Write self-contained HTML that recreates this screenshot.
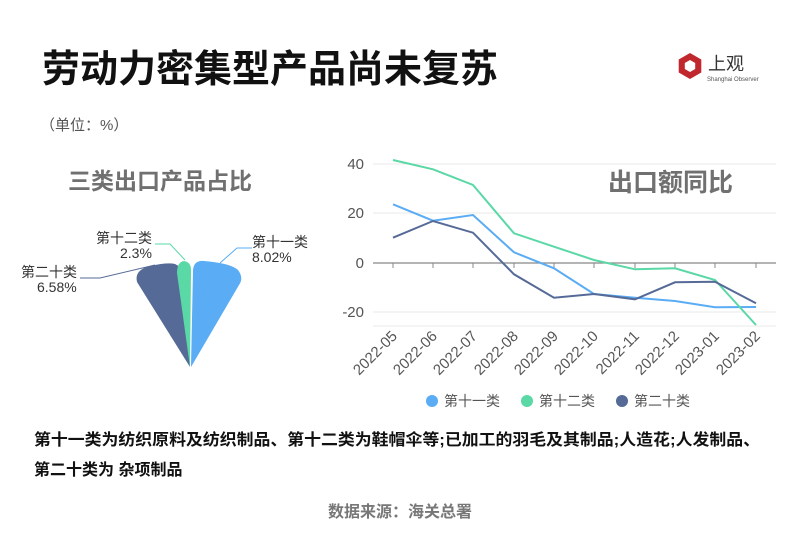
<!DOCTYPE html>
<html><head><meta charset="utf-8"><style>
body{margin:0;background:#fff;width:799px;height:530px;overflow:hidden;font-family:"Liberation Sans","Noto Sans CJK SC",sans-serif}
</style></head><body>
<svg width="799" height="530" xmlns="http://www.w3.org/2000/svg" font-family="Liberation Sans, Noto Sans CJK SC, sans-serif">
<text x="42" y="82" font-size="38" font-weight="bold" fill="#111">劳动力密集型产品尚未复苏</text>
<text x="40" y="130" font-size="15" fill="#555">（单位：%）</text>
<g transform="translate(690,66)">
<polygon points="0,-13 11.3,-6.5 11.3,6.5 0,13 -11.3,6.5 -11.3,-6.5" fill="#c0282d"/>
<polygon points="0,-6 5.2,-3 5.2,3 0,6 -5.2,3 -5.2,-3" fill="#fff"/>
</g>
<text x="708" y="70" font-size="18" fill="#333">上观</text>
<text x="707" y="81" font-size="6" fill="#555">Shanghai Observer</text>
<text x="68" y="189" font-size="23" font-weight="bold" fill="#707070">三类出口产品占比</text>
<path d="M190,367 L137,282 Q134,270 150,266 Q168,262 175,264 Q180,266 181,272 Z" fill="#566a97"/>
<path d="M190,367 L177,273 Q177,262 184,261 Q191,262 191,270 Z" fill="#5ad8a6"/>
<path d="M191,367 L193,270 Q194,260 204,261 Q230,263 238,270 Q244,278 239,285 Z" fill="#5aacf4"/>
<polyline points="155,265 100,278 80,278" fill="none" stroke="#566a97" stroke-width="1"/>
<polyline points="185,260 170,244 155,244" fill="none" stroke="#5ad8a6" stroke-width="1"/>
<polyline points="220,263 237,248 252,248" fill="none" stroke="#5aacf4" stroke-width="1"/>
<text x="21" y="277" font-size="14" fill="#333">第二十类</text>
<text x="37" y="292" font-size="14" fill="#333">6.58%</text>
<text x="96" y="243" font-size="14" fill="#333">第十二类</text>
<text x="120" y="258" font-size="14" fill="#333">2.3%</text>
<text x="252" y="247" font-size="14" fill="#333">第十一类</text>
<text x="252" y="262" font-size="14" fill="#333">8.02%</text>
<g stroke="#e8e8e8" stroke-width="1">
<line x1="373" y1="164" x2="776" y2="164"/>
<line x1="373" y1="213" x2="776" y2="213"/>
<line x1="373" y1="312" x2="776" y2="312"/>
<line x1="373" y1="326" x2="776" y2="326"/>
</g>
<line x1="373" y1="263" x2="776" y2="263" stroke="#888" stroke-width="1.2"/>
<g stroke="#888" stroke-width="1">
<line x1="393" y1="263" x2="393" y2="268"/><line x1="433" y1="263" x2="433" y2="268"/><line x1="473" y1="263" x2="473" y2="268"/><line x1="514" y1="263" x2="514" y2="268"/><line x1="554" y1="263" x2="554" y2="268"/><line x1="594" y1="263" x2="594" y2="268"/><line x1="635" y1="263" x2="635" y2="268"/><line x1="675" y1="263" x2="675" y2="268"/><line x1="715" y1="263" x2="715" y2="268"/><line x1="756" y1="263" x2="756" y2="268"/>
</g>
<g font-size="15" fill="#555" text-anchor="end">
<text x="364" y="169">40</text><text x="364" y="218">20</text><text x="364" y="268">0</text><text x="364" y="317">-20</text>
</g>
<text x="608" y="191" font-size="25" font-weight="bold" fill="#707070">出口额同比</text>
<g font-size="15" fill="#555" text-anchor="end">
<text transform="translate(398,337) rotate(-45)">2022-05</text>
<text transform="translate(438,337) rotate(-45)">2022-06</text>
<text transform="translate(478,337) rotate(-45)">2022-07</text>
<text transform="translate(519,337) rotate(-45)">2022-08</text>
<text transform="translate(559,337) rotate(-45)">2022-09</text>
<text transform="translate(599,337) rotate(-45)">2022-10</text>
<text transform="translate(640,337) rotate(-45)">2022-11</text>
<text transform="translate(680,337) rotate(-45)">2022-12</text>
<text transform="translate(720,337) rotate(-45)">2023-01</text>
<text transform="translate(761,337) rotate(-45)">2023-02</text>
</g>
<g fill="none" stroke-width="2">
<polyline stroke="#5aacf4" points="393,204.3 433,220.7 473,215 514,252.3 554,268.3 594,294 635,297.7 675,301 715,307.3 756,307"/>
<polyline stroke="#5ad8a6" points="393,160 433,169.3 473,185 514,233.3 554,246.7 594,260 635,269.3 675,268.3 715,280 756,325"/>
<polyline stroke="#566a97" points="393,237.7 433,221 473,232.7 514,274.3 554,297.7 594,294 635,299.3 675,282.3 715,281.7 756,303.3"/>
</g>
<circle cx="432" cy="401" r="6" fill="#5aacf4"/><text x="444" y="406" font-size="14" fill="#555">第十一类</text>
<circle cx="527" cy="401" r="6" fill="#5ad8a6"/><text x="539" y="406" font-size="14" fill="#555">第十二类</text>
<circle cx="622" cy="401" r="6" fill="#566a97"/><text x="634" y="406" font-size="14" fill="#555">第二十类</text>
<text x="34" y="445" font-size="16" font-weight="bold" fill="#111" textLength="726" lengthAdjust="spacingAndGlyphs">第十一类为纺织原料及纺织制品、第十二类为鞋帽伞等;已加工的羽毛及其制品;人造花;人发制品、</text>
<text x="34" y="475" font-size="16" font-weight="bold" fill="#111">第二十类为 杂项制品</text>
<text x="328" y="517" font-size="16" font-weight="bold" fill="#777">数据来源：海关总署</text>
</svg>
</body></html>
